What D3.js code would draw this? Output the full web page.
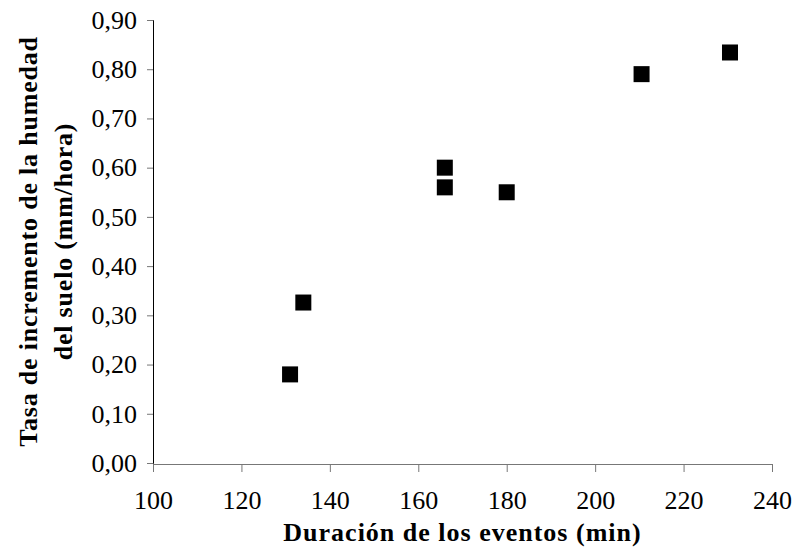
<!DOCTYPE html>
<html>
<head>
<meta charset="utf-8">
<script src="https://cdn.jsdelivr.net/npm/d3@7"></script>
<style>
  body { margin: 0; background: #fff; }
  text { font-family: "Liberation Serif", "Times New Roman", serif; fill: #000; }
</style>
</head>
<body>
<script>
// duracion (min) vs tasa de incremento (mm/hora)
var duracion = [131, 134, 166, 166, 180, 210.5, 230.5];
var tasa = [0.18, 0.326, 0.60, 0.56, 0.55, 0.79, 0.834];
var xTicks = [100, 120, 140, 160, 180, 200, 220, 240];
var yTicks = [0, 0.1, 0.2, 0.3, 0.4, 0.5, 0.6, 0.7, 0.8, 0.9];

var width = 792, height = 551;
// note: "top" is taken by window.top, so use plot* names
var plotLeft = 153, plotRight = 772, plotTop = 20, plotBottom = 463;

var svg = d3.select("body").append("svg")
  .attr("width", width)
  .attr("height", height);

var x = d3.scaleLinear().domain([100, 240]).range([plotLeft, plotRight]);
var y = d3.scaleLinear().domain([0, 0.9]).range([plotBottom, plotTop]);

var fmt = function(d) { return d.toFixed(2).replace(".", ","); };

// y axis
var yAxis = svg.append("g")
  .attr("transform", "translate(" + plotLeft + ",0)")
  .call(d3.axisLeft(y).tickValues(yTicks).tickFormat(fmt).tickSize(6).tickPadding(10))
  .attr("font-family", "Liberation Serif")
  .attr("font-size", 26);
yAxis.select(".domain").attr("stroke", "#000");
yAxis.selectAll(".tick line").attr("stroke", "#777");

// x axis
var xAxis = svg.append("g")
  .attr("transform", "translate(0," + (plotBottom + 1) + ")")
  .call(d3.axisBottom(x).tickValues(xTicks).tickSize(8).tickPadding(19))
  .attr("font-family", "Liberation Serif")
  .attr("font-size", 26);
xAxis.select(".domain").attr("stroke", "#777");
xAxis.selectAll(".tick line").attr("stroke", "#777");

// points
var s = 16;
svg.selectAll("rect.pt").data(duracion).enter().append("rect")
  .attr("class", "pt")
  .attr("x", function(d) { return x(d) - s / 2; })
  .attr("y", function(d, i) { return y(tasa[i]) - s / 2; })
  .attr("width", s)
  .attr("height", s)
  .attr("fill", "#000");

// titles
svg.append("text")
  .attr("x", (plotLeft + plotRight) / 2)
  .attr("y", 541)
  .attr("text-anchor", "middle")
  .style("font-size", "26px")
  .style("font-weight", "bold")
  .style("letter-spacing", "1px")
  .text("Duración de los eventos (min)");

var yt = svg.append("text")
  .attr("transform", "translate(0," + ((plotTop + plotBottom) / 2) + ") rotate(-90)")
  .attr("text-anchor", "middle")
  .style("font-size", "26px")
  .style("font-weight", "bold")
  .style("letter-spacing", "0.8px");
yt.append("tspan").attr("x", 0).attr("y", 37).text("Tasa de incremento de la humedad");
yt.append("tspan").attr("x", 0).attr("y", 72).text("del suelo (mm/hora)");
</script>
</body>
</html>
